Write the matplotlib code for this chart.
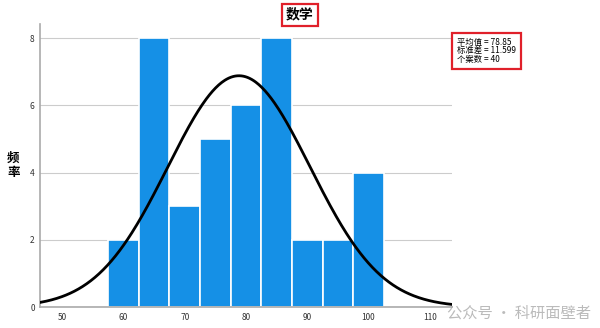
import numpy as np
import matplotlib.pyplot as plt

plt.rcParams['font.family'] = ['Noto Sans CJK SC', 'DejaVu Sans']

# histogram of math scores (bin width 5)
bin_edges = [57.5, 62.5, 67.5, 72.5, 77.5, 82.5, 87.5, 92.5, 97.5, 102.5]
counts = [2, 8, 3, 5, 6, 8, 2, 2, 4]
mean = 78.85
std = 11.599
n = 40
x_ticks = [50, 60, 70, 80, 90, 100, 110]
y_ticks = [0, 2, 4, 6, 8]

fig = plt.figure(figsize=(6, 3.28), dpi=100)
ax = fig.add_axes([0.067, 0.064, 0.686, 0.863])

widths = np.diff(bin_edges)
ax.bar(bin_edges[:-1], counts, width=widths, align='edge',
       color='#1590e6', edgecolor='white', linewidth=1.2, zorder=2)

# fitted normal curve
xlim = (46.4, 113.6)
xs = np.linspace(xlim[0], xlim[1], 400)
bw = widths[0]
ys = n * bw / (std * np.sqrt(2 * np.pi)) * np.exp(-0.5 * ((xs - mean) / std) ** 2)
ax.plot(xs, ys, color='black', linewidth=2, zorder=3)

ax.set_xlim(*xlim)
ax.set_ylim(0, 8.42)
ax.set_xticks(x_ticks)
ax.set_yticks(y_ticks)
ax.tick_params(length=0, labelsize=6, colors='#333333', pad=4)
ax.yaxis.grid(True, color='#cccccc', linewidth=0.8, zorder=0)
ax.set_axisbelow(True)
for s in ['top', 'right']:
    ax.spines[s].set_visible(False)
for s in ['left', 'bottom']:
    ax.spines[s].set_color('#aaaaaa')
    ax.spines[s].set_linewidth(1.2)

ax.set_ylabel('频\n率', rotation=0, fontsize=9, fontweight='bold',
              labelpad=12, va='center')

fig.text(0.5, 0.955, '数学', ha='center', va='center', fontsize=10,
         fontweight='bold',
         bbox=dict(boxstyle='square,pad=0.3', fc='white', ec='#e0202a', lw=1.6))

fig.text(0.762, 0.845, '平均值 = 78.85\n标准差 = 11.599\n个案数 = 40',
         ha='left', va='center', fontsize=6, linespacing=0.95,
         bbox=dict(boxstyle='square,pad=0.6', fc='white', ec='#e0202a', lw=1.6))

fig.text(0.985, 0.02, '公众号 · 科研面壁者', ha='right', va='bottom',
         fontsize=11, color='#aaaaaa', alpha=0.8)

fig.savefig('out.png', dpi=100)
